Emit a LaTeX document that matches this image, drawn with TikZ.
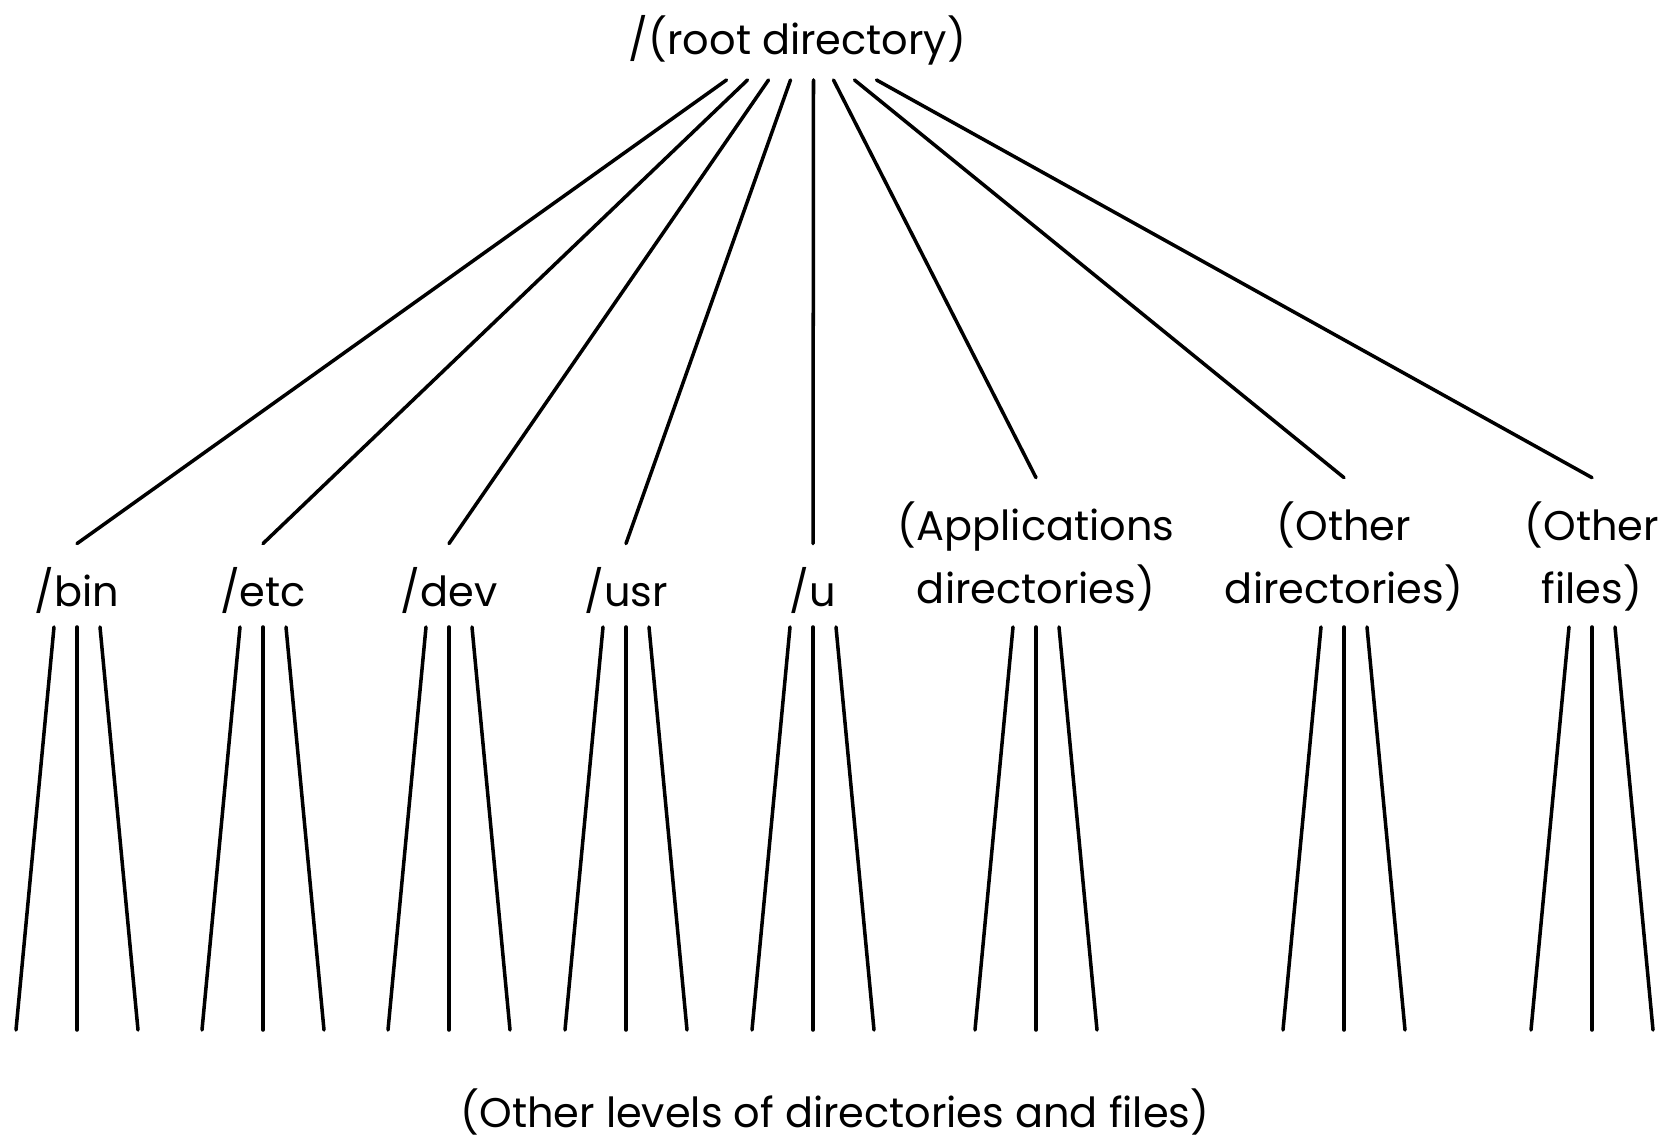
\documentclass[tikz,border=0pt]{standalone}
\usepackage{fontspec}
\setmainfont{Poppins}
\usetikzlibrary{calc}

\begin{document}
\begin{tikzpicture}[
    x=0.02cm, y=-0.02cm,
    dir/.style={inner sep=0pt, align=center, anchor=base, font=\fontsize{23.6}{36}\selectfont},
    branch/.style={line width=2pt, line cap=round}
]
\useasboundingbox (0,0) rectangle (1664,1141);

% Root
\node[dir] (root) at (797.5,55) {/(root directory)};

% First level
\node[dir] (bin) at (77,607) {/bin};
\node[dir] (etc) at (263,607) {/etc};
\node[dir] (dev) at (449,607) {/dev};
\node[dir] (usr) at (626,607) {/usr};
\node[dir] (u) at (813,607) {/u};
\node[dir] (apps) at (1036,604) {(Applications\\directories)};
\node[dir] (odirs) at (1344,604) {(Other\\directories)};
\node[dir] (ofiles) at (1592,604) {(Other\\files)};

% Bottom label
\node[dir] (levels) at (835,1127) {(Other levels of directories and files)};

% Root to first level
\foreach \n/\dx in {bin/-71, etc/-50, dev/-29, usr/-7, u/16, apps/36, odirs/57, ofiles/79}
    \draw[branch] ($(root.base)+(\dx,25)$) -- ($(\n.north)+(0,-24)$);

% Lower levels
\coordinate (fan) at (0,627);
\foreach \n in {bin, etc, dev, usr, u, apps, odirs, ofiles} {
    \draw[branch] ($(\n |- fan)+(-23,0)$) -- ++(-38,403);
    \draw[branch] (\n |- fan) -- ++(0,403);
    \draw[branch] ($(\n |- fan)+(23,0)$) -- ++(38,403);
}
\end{tikzpicture}
\end{document}
